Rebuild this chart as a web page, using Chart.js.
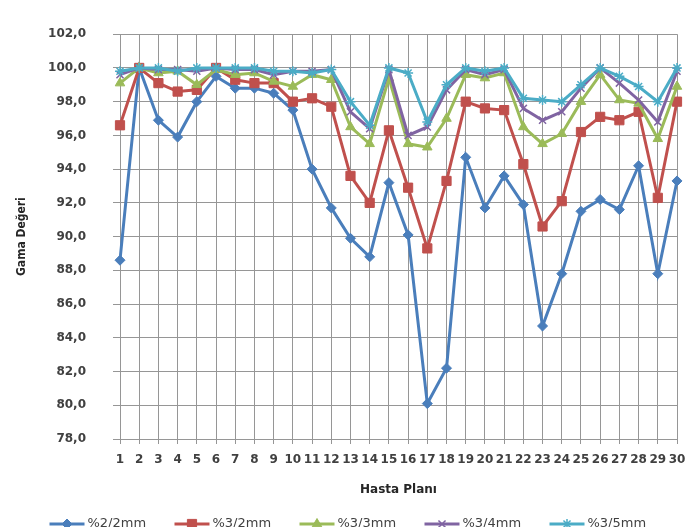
<!DOCTYPE html>
<html>
<head>
<meta charset="utf-8">
<script src="https://cdn.jsdelivr.net/npm/chart.js@4.4.1/dist/chart.umd.min.js"></script>
<style>
  html, body { margin: 0; padding: 0; background: #ffffff; overflow: hidden; }
  #wrap { width: 698px; height: 527px; }
</style>
</head>
<body>
<div id="wrap"><canvas id="c" width="698" height="527"></canvas></div>
<script>
// ---- Data ----
const categories = ['1','2','3','4','5','6','7','8','9','10','11','12','13','14','15','16','17','18','19','20','21','22','23','24','25','26','27','28','29','30'];

const seriesNames = ['%2/2mm', '%3/2mm', '%3/3mm', '%3/4mm', '%3/5mm'];

const g2_2mm = [88.6, 100.0, 96.9, 95.9, 98.0, 99.5, 98.8, 98.8, 98.5, 97.5,
                94.0, 91.7, 89.9, 88.8, 93.2, 90.1, 80.1, 82.2, 94.7, 91.7,
                93.6, 91.9, 84.7, 87.8, 91.5, 92.2, 91.6, 94.2, 87.8, 93.3];

const g3_2mm = [96.6, 100.0, 99.1, 98.6, 98.7, 100.0, 99.3, 99.1, 99.1, 98.0,
                98.2, 97.7, 93.6, 92.0, 96.3, 92.9, 89.3, 93.3, 98.0, 97.6,
                97.5, 94.3, 90.6, 92.1, 96.2, 97.1, 96.9, 97.4, 92.3, 98.0];

const g3_3mm = [99.1, 100.0, 99.7, 99.8, 99.0, 99.9, 99.6, 99.7, 99.2, 98.9,
                99.6, 99.3, 96.5, 95.5, 99.4, 95.5, 95.3, 97.0, 99.6, 99.4,
                99.7, 96.5, 95.5, 96.1, 98.0, 99.6, 98.1, 97.9, 95.8, 98.9];

const g3_4mm = [99.6, 100.0, 99.9, 99.9, 99.8, 100.0, 99.9, 99.9, 99.6, 99.8,
                99.8, 99.9, 97.4, 96.4, 99.9, 96.0, 96.5, 98.7, 99.9, 99.6,
                99.9, 97.6, 96.9, 97.4, 98.8, 100.0, 99.1, 98.1, 96.8, 99.8];

const g3_5mm = [99.8, 100.0, 100.0, 99.8, 100.0, 100.0, 100.0, 100.0, 99.8, 99.8,
                99.7, 99.9, 98.0, 96.6, 100.0, 99.7, 96.8, 99.0, 100.0, 99.8,
                100.0, 98.2, 98.1, 98.0, 99.0, 100.0, 99.5, 98.9, 98.0, 100.0];

const yMin = 78, yMax = 102, yStep = 2;
const xTitle = 'Hasta Planı';
const yTitle = 'Gama Değeri';

// ---- Styling ----
const colors = ['#4a7ebb', '#c0504d', '#9bbb59', '#8064a2', '#4bacc6'];
const styles = ['rectRot', 'rect', 'triangle', 'crossRot', 'star'];
const radii = [5, 6.5, 5.5, 5, 5];
const values = [g2_2mm, g3_2mm, g3_3mm, g3_4mm, g3_5mm];

const datasets = values.map((v, i) => ({
  label: seriesNames[i],
  data: v,
  borderColor: colors[i],
  backgroundColor: colors[i],
  pointBackgroundColor: colors[i],
  pointBorderColor: colors[i],
  pointStyle: styles[i],
  pointRadius: radii[i],
  pointBorderWidth: (styles[i] === 'crossRot' || styles[i] === 'star') ? 1.5 : 1,
  borderWidth: 3,
  tension: 0,
  fill: false,
  order: values.length - i
}));

const tickColor = '#404040';
const gridColor = '#969696';

const legendPlugin = {
  id: 'excelLegend',
  afterDraw(chart) {
    const ctx = chart.ctx;
    const ds = chart.data.datasets;
    const itemW = 125, lineW = 35, y = 524;
    const total = itemW * (ds.length - 1) + lineW + 64;
    let x0 = (chart.width - total) / 2;
    ctx.save();
    ctx.font = '13px "DejaVu Sans", sans-serif';
    ctx.textBaseline = 'middle';
    ctx.textAlign = 'left';
    ds.forEach((d, i) => {
      const x = x0 + i * itemW;
      ctx.strokeStyle = d.borderColor;
      ctx.lineWidth = 3;
      ctx.beginPath();
      ctx.moveTo(x, y);
      ctx.lineTo(x + lineW, y);
      ctx.stroke();
      ctx.fillStyle = d.pointBackgroundColor;
      ctx.strokeStyle = d.pointBorderColor;
      ctx.lineWidth = d.pointBorderWidth;
      if (Chart.helpers && Chart.helpers.drawPoint) {
        Chart.helpers.drawPoint(ctx, {pointStyle: d.pointStyle, radius: d.pointRadius, rotation: 0, borderWidth: d.pointBorderWidth}, x + lineW / 2, y);
      }
      ctx.fillStyle = '#404040';
      ctx.fillText(d.label, x + lineW + 3, y);
    });
    ctx.restore();
  }
};

new Chart(document.getElementById('c'), {
  type: 'line',
  data: { labels: categories, datasets: datasets },
  options: {
    responsive: false,
    animation: false,
    devicePixelRatio: 1,
    layout: { padding: { left: 0, top: 19, right: 21, bottom: 28 } },
    plugins: {
      legend: { display: false },
      tooltip: { enabled: false }
    },
    scales: {
      x: {
        type: 'category',
        offset: false,
        afterFit: (s) => { s.height = 60; },
        grid: { color: gridColor, lineWidth: 1, drawTicks: true, tickLength: 5, tickColor: gridColor },
        border: { color: gridColor, width: 1 },
        ticks: {
          autoSkip: false, maxRotation: 0, minRotation: 0, padding: 9,
          color: tickColor,
          font: { family: '"DejaVu Sans", sans-serif', size: 12, weight: 'bold' }
        },
        title: {
          display: true, text: xTitle, color: '#262626',
          padding: { top: 0, bottom: 2 },
          font: { family: '"DejaVu Sans", sans-serif', size: 12, weight: 'bold' }
        }
      },
      y: {
        min: yMin, max: yMax,
        afterFit: (s) => { s.width = 120; },
        grid: { color: gridColor, lineWidth: 1, drawTicks: true, tickLength: 7, tickColor: gridColor },
        border: { color: gridColor, width: 1 },
        ticks: {
          stepSize: yStep, padding: 27,
          color: tickColor,
          font: { family: '"DejaVu Sans", sans-serif', size: 12, weight: 'bold' },
          callback: (v) => Number(v).toFixed(1).replace('.', ',')
        },
        title: {
          display: true, text: yTitle, color: '#262626',
          padding: { top: 15, bottom: 0 },
          font: { family: '"DejaVu Sans Condensed", "DejaVu Sans", sans-serif', size: 12, weight: 'bold' }
        }
      }
    }
  },
  plugins: [legendPlugin]
});
</script>
</body>
</html>
